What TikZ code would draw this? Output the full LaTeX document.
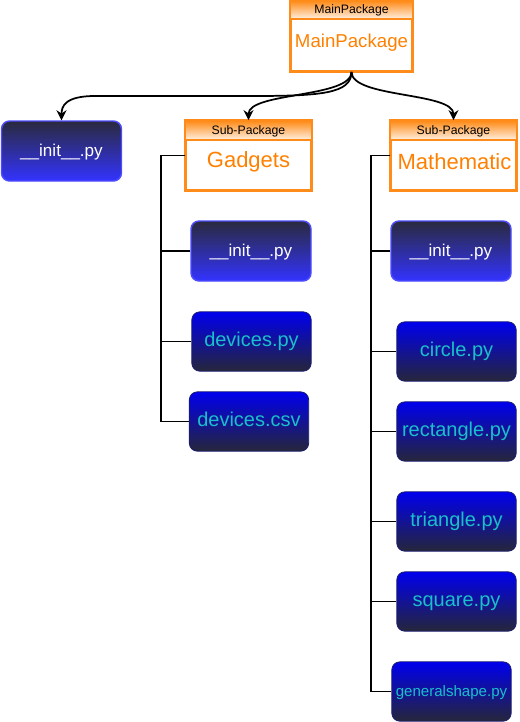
\documentclass[tikz,border=0pt]{standalone}
\usepackage{fontspec}
\setmainfont{Liberation Sans}
\usetikzlibrary{arrows.meta,calc}
\definecolor{orng}{HTML}{FF8C1A}
\definecolor{otext}{HTML}{FF8000}
\definecolor{darkb}{HTML}{2A2A3E}
\definecolor{brightb}{HTML}{3333FF}
\definecolor{edgeb}{HTML}{4D4DFF}
\definecolor{deepb}{HTML}{0000EE}
\definecolor{darkc}{HTML}{26263A}
\definecolor{cyantext}{HTML}{1ABFCC}
\begin{document}
\begin{tikzpicture}[x=0.75pt,y=-0.75pt,
  pkg/.style={draw=orng,line width=1.4pt,minimum width=93.75pt,minimum height=51.75pt,inner sep=0pt},
  hdr/.style={top color=orng,bottom color=orng!12!white},
  hdrtext/.style={font=\fontsize{9.2}{10}\selectfont,text=black},
  pkgtext/.style={font=\fontsize{16.5}{18}\selectfont,text=otext},
  initbox/.style={rounded corners=6pt,draw=edgeb,line width=1.1pt,top color=darkb,bottom color=brightb,
     text=white,minimum width=90pt,minimum height=45pt,inner sep=0pt,font=\fontsize{12.8}{14}\selectfont,
     text height=0.8em,text depth=0pt},
  filebox/.style={rounded corners=6pt,draw=darkc!70!deepb,line width=0.6pt,top color=deepb,bottom color=darkc,
     text=cyantext,minimum width=89.5pt,minimum height=44.5pt,inner sep=0pt,font=\fontsize{15}{17}\selectfont,
     text height=0.8em,text depth=0pt},
  conn/.style={draw=black,line width=1.3pt},
  arr/.style={draw=black,line width=1.3pt,-{Stealth[length=7.5pt,width=7.5pt,inset=2.5pt]}}]
\useasboundingbox (0,0) rectangle (520,722);

% MainPackage
\node[pkg,minimum width=90.75pt,minimum height=52.5pt] (main) at (351.5,36) {};
\shade[hdr] ([xshift=0.7pt,yshift=-0.7pt]main.north west) rectangle ([xshift=-0.7pt]$(main.north east)+(0,19)$);
\draw[draw=orng,line width=1.4pt] (main.north west) rectangle (main.south east);
\draw[draw=orng,line width=1.1pt] ($(main.north west)+(0,19)$) -- ($(main.north east)+(0,19)$);
\node[hdrtext] (mainh) at (351.5,10.5) {MainPackage};
\node[pkgtext,font=\fontsize{14}{16}\selectfont] (mainb) at (351.5,42.5) {MainPackage};

% Gadgets
\node[pkg] (gad) at (248.5,155.5) {};
\shade[hdr] ([xshift=0.7pt,yshift=-0.7pt]gad.north west) rectangle ([xshift=-0.7pt]$(gad.north east)+(0,20)$);
\draw[draw=orng,line width=1.4pt] (gad.north west) rectangle (gad.south east);
\draw[draw=orng,line width=1.1pt] ($(gad.north west)+(0,20)$) -- ($(gad.north east)+(0,20)$);
\node[hdrtext] (gadh) at (248.5,131) {Sub-Package};
\node[pkgtext] (gadb) at (248.5,162) {Gadgets};

% Mathematic
\node[pkg] (mat) at (453.5,155.5) {};
\shade[hdr] ([xshift=0.7pt,yshift=-0.7pt]mat.north west) rectangle ([xshift=-0.7pt]$(mat.north east)+(0,20)$);
\draw[draw=orng,line width=1.4pt] (mat.north west) rectangle (mat.south east);
\draw[draw=orng,line width=1.1pt] ($(mat.north west)+(0,20)$) -- ($(mat.north east)+(0,20)$);
\node[hdrtext] (math) at (453.5,131) {Sub-Package};
\node[pkgtext] (matb) at (454.5,162) {Mathematic};

% init boxes
\node[initbox] (initL) at (61.5,151) {\_\_init\_\_.py};
\node[initbox] (gi) at (251,251) {\_\_init\_\_.py};
\node[initbox] (mi) at (451,251) {\_\_init\_\_.py};

% file boxes
\node[filebox] (dpy) at (251.5,341.5) {devices.py};
\node[filebox] (dcsv) at (249,421.5) {devices.csv};
\node[filebox] (circ) at (456.5,351.5) {circle.py};
\node[filebox] (rect) at (456.5,431.5) {rectangle.py};
\node[filebox] (tri) at (456.5,521.5) {triangle.py};
\node[filebox] (sq) at (456.5,601.5) {square.py};
\node[filebox,font=\fontsize{11.3}{13}\selectfont] (gen) at (451.5,691.5) {generalshape.py};

% tree connectors
\foreach \c in {gi,dpy,dcsv} \draw[conn] (gad.west) -- ++(-24,0) |- (\c.west);
\foreach \c in {mi,circ,rect,tri,sq,gen} \draw[conn] (mat.west) -- ++(-19,0) |- (\c.west);

% curved arrows
\draw[arr] (main.south) .. controls +(0,22) and +(70,0) .. (250,96) -- (95,96)
   .. controls +(-30,0) and +(0,-14) .. (initL.north);
\draw[arr] (main.south) .. controls (351.5,98) and (248.5,92) .. (gad.north);
\draw[arr] (main.south) .. controls (351.5,98) and (453.5,92) .. (mat.north);
\end{tikzpicture}
\end{document}
